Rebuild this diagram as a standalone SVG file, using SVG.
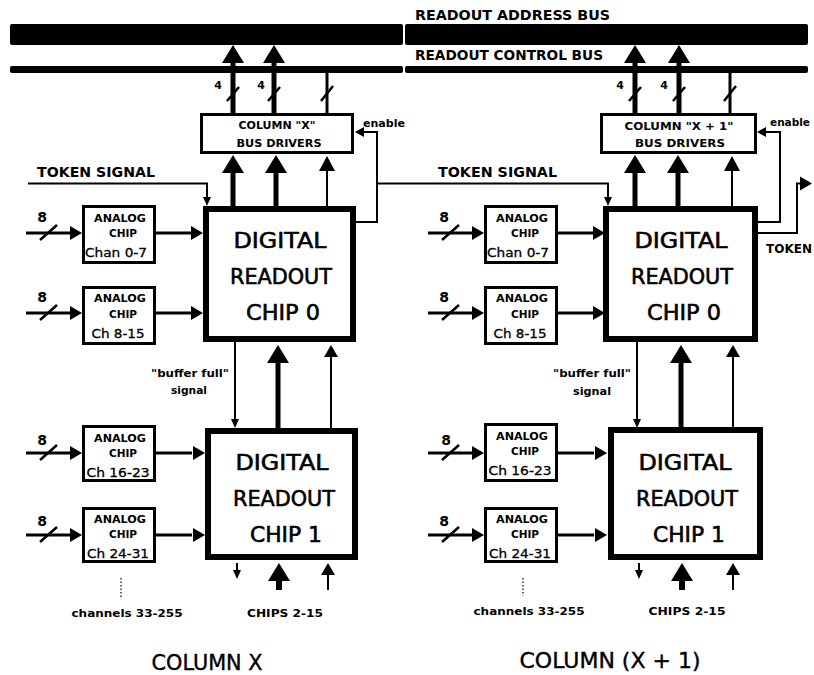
<svg xmlns="http://www.w3.org/2000/svg" xmlns:xlink="http://www.w3.org/1999/xlink" width="814" height="675" viewBox="0 0 814 675">
<style>
.bg{fill:#fff}
.bar{fill:#000}
.box{fill:#fff;stroke:#000;stroke-width:3}
.drc{fill:#fff;stroke:#000;stroke-width:6}
.thick{stroke:#000;stroke-width:5;fill:none}
.thin{stroke:#000;stroke-width:2;fill:none}
.mid{stroke:#000;stroke-width:3;fill:none}
.slash{stroke:#000;stroke-width:2.5;fill:none}
.hd{fill:#000}
.lb{font-family:"DejaVu Sans","Liberation Sans",sans-serif;font-weight:bold;fill:#000}
.big{font-family:"DejaVu Sans","Liberation Sans",sans-serif;font-size:21px;fill:#000;stroke:#000;stroke-width:0.6;text-anchor:middle}
.sm{font-family:"DejaVu Sans","Liberation Sans",sans-serif;font-weight:bold;font-size:10.5px;fill:#000;text-anchor:middle}
.ch{font-weight:normal;font-size:12px;stroke:#000;stroke-width:0.3}
.dot{stroke:#000;stroke-width:1.2;stroke-dasharray:1.5 2;fill:none}
</style>
<defs>
<path id="hUpL" d="M0,0 L-11,18 L11,18 Z"/>
<path id="hUpS" d="M0,0 L-8,15 L8,15 Z"/>
<path id="hUpT" d="M0,0 L-7,12 L7,12 Z"/>
<path id="hDn" d="M0,0 L-4,-9 L4,-9 Z"/>
<path id="hR" d="M0,0 L-12,-7 L-12,7 Z"/>
<path id="hL" d="M0,0 L9,-5 L9,5 Z"/>
<g id="analogIn">
<line class="mid" x1="26" y1="0" x2="72" y2="0"/>
<line class="slash" x1="40" y1="7" x2="57" y2="-8"/>
<use xlink:href="#hR" x="82" y="0" class="hd"/>
<line class="mid" x1="156" y1="0" x2="192" y2="0"/>
</g>
</defs>
<rect class="bg" width="814" height="675"/>

<g id="buses">
<rect class="bar" x="10" y="24" width="393" height="21" rx="2"/>
<rect class="bar" x="405" y="24" width="403" height="21" rx="2"/>
<rect class="bar" x="10" y="66" width="393" height="7" rx="2"/>
<rect class="bar" x="405" y="66" width="403" height="7" rx="2"/>
<text class="lb" x="415" y="20" font-size="14" textLength="195" lengthAdjust="spacingAndGlyphs">READOUT ADDRESS BUS</text>
<text class="lb" x="415" y="60" font-size="14" textLength="188" lengthAdjust="spacingAndGlyphs">READOUT CONTROL BUS</text>
</g>

<!-- COLUMN X -->
<g id="columnX">
<g id="connectorsX">
<line class="thick" x1="233" y1="113" x2="233" y2="60"/>
<use xlink:href="#hUpL" x="233" y="45" class="hd"/>
<line class="thick" x1="274" y1="113" x2="274" y2="60"/>
<use xlink:href="#hUpL" x="274" y="45" class="hd"/>
<line class="mid" x1="327" y1="113" x2="327" y2="73"/>
<line class="slash" x1="227" y1="101" x2="239" y2="87"/>
<line class="slash" x1="268" y1="101" x2="280" y2="87"/>
<line class="slash" x1="321" y1="101" x2="333" y2="86"/>
<text class="lb" x="218" y="89" font-size="11" text-anchor="middle">4</text>
<text class="lb" x="261" y="89" font-size="11" text-anchor="middle">4</text>
<line class="thick" x1="233" y1="206" x2="233" y2="170"/>
<use xlink:href="#hUpL" x="233" y="155" class="hd"/>
<line class="thick" x1="276" y1="206" x2="276" y2="170"/>
<use xlink:href="#hUpL" x="276" y="155" class="hd"/>
<line class="thin" x1="327" y1="206" x2="327" y2="168"/>
<use xlink:href="#hUpS" x="327" y="156" class="hd"/>
<path class="thin" d="M28,183.5 H207 V199"/>
<use xlink:href="#hDn" x="207" y="206" class="hd"/>
<path class="thin" d="M356,222 H377 V132 H363"/>
<use xlink:href="#hL" x="355" y="132" class="hd"/>
<path class="thin" d="M377,183.5 H608 V199"/>
<use xlink:href="#hDn" x="608" y="206" class="hd"/>
<use xlink:href="#analogIn" y="233"/>
<use xlink:href="#hR" x="203" y="233" class="hd"/>
<use xlink:href="#analogIn" y="313"/>
<use xlink:href="#hR" x="203" y="313" class="hd"/>
<use xlink:href="#analogIn" y="453"/>
<use xlink:href="#hR" x="205" y="453" class="hd"/>
<use xlink:href="#analogIn" y="535"/>
<use xlink:href="#hR" x="205" y="535" class="hd"/>
<line class="thin" x1="235" y1="342" x2="235" y2="420"/>
<use xlink:href="#hDn" x="235" y="428" class="hd"/>
<line class="thick" x1="278" y1="428" x2="278" y2="360"/>
<use xlink:href="#hUpL" x="278" y="345" class="hd"/>
<line class="thin" x1="331" y1="428" x2="331" y2="355"/>
<use xlink:href="#hUpT" x="331" y="345" class="hd"/>
<line class="thin" x1="237" y1="563" x2="237" y2="571"/>
<use xlink:href="#hDn" x="237" y="579" class="hd"/>
<line class="thick" x1="279" y1="590" x2="279" y2="575" style="stroke-width:6"/>
<use xlink:href="#hUpL" x="279" y="563" class="hd"/>
<line class="thin" x1="328" y1="590" x2="328" y2="572"/>
<use xlink:href="#hUpT" x="328" y="563" class="hd"/>
<line class="dot" x1="121" y1="578" x2="121" y2="598"/>
</g>
<g id="busDriversX">
<rect class="box" x="201.5" y="114.5" width="151" height="38"/>
<text class="sm" x="277" y="129" textLength="77" lengthAdjust="spacingAndGlyphs">COLUMN "X"</text>
<text class="sm" x="279" y="147" textLength="85" lengthAdjust="spacingAndGlyphs">BUS DRIVERS</text>
</g>
<g id="drc0X">
<rect class="drc" x="206" y="209" width="147" height="130"/>
<text class="big" x="280" y="248" textLength="93" lengthAdjust="spacingAndGlyphs">DIGITAL</text>
<text class="big" x="281" y="284" textLength="102" lengthAdjust="spacingAndGlyphs">READOUT</text>
<text class="big" x="283" y="320" textLength="74" lengthAdjust="spacingAndGlyphs">CHIP 0</text>
</g>
<g id="drc1X">
<rect class="drc" x="208" y="431" width="147" height="126"/>
<text class="big" x="282" y="470" textLength="93" lengthAdjust="spacingAndGlyphs">DIGITAL</text>
<text class="big" x="284" y="506" textLength="102" lengthAdjust="spacingAndGlyphs">READOUT</text>
<text class="big" x="286" y="542" textLength="72" lengthAdjust="spacingAndGlyphs">CHIP 1</text>
</g>
<g id="analog0X">
<rect class="box" x="83.5" y="206.5" width="71" height="56"/>
<text class="sm" x="120" y="222" textLength="52" lengthAdjust="spacingAndGlyphs">ANALOG</text>
<text class="sm" x="123" y="237">CHIP</text>
<text class="sm ch" x="116" y="257" textLength="62" lengthAdjust="spacingAndGlyphs">Chan 0-7</text>
</g>
<g id="analog1X">
<rect class="box" x="83.5" y="287.5" width="71" height="56"/>
<text class="sm" x="120" y="302" textLength="52" lengthAdjust="spacingAndGlyphs">ANALOG</text>
<text class="sm" x="123" y="318">CHIP</text>
<text class="sm ch" x="118" y="338" textLength="53" lengthAdjust="spacingAndGlyphs">Ch 8-15</text>
</g>
<g id="analog2X">
<rect class="box" x="83.5" y="426.5" width="71" height="54"/>
<text class="sm" x="120" y="442" textLength="52" lengthAdjust="spacingAndGlyphs">ANALOG</text>
<text class="sm" x="123" y="457">CHIP</text>
<text class="sm ch" x="118" y="477" textLength="63" lengthAdjust="spacingAndGlyphs">Ch 16-23</text>
</g>
<g id="analog3X">
<rect class="box" x="83.5" y="508.5" width="71" height="53"/>
<text class="sm" x="120" y="523" textLength="52" lengthAdjust="spacingAndGlyphs">ANALOG</text>
<text class="sm" x="123" y="538">CHIP</text>
<text class="sm ch" x="118" y="558" textLength="62" lengthAdjust="spacingAndGlyphs">Ch 24-31</text>
</g>
<g id="labelsX">
<text class="lb" x="37" y="177" font-size="14" textLength="118" lengthAdjust="spacingAndGlyphs">TOKEN SIGNAL</text>
<text class="lb" x="42" y="222" font-size="14" text-anchor="middle">8</text>
<text class="lb" x="42" y="302" font-size="14" text-anchor="middle">8</text>
<text class="lb" x="42" y="445" font-size="14" text-anchor="middle">8</text>
<text class="lb" x="42" y="526" font-size="14" text-anchor="middle">8</text>
<text class="lb" x="363" y="127" font-size="10" textLength="42" lengthAdjust="spacingAndGlyphs">enable</text>
<text class="sm" x="190" y="377" textLength="78" lengthAdjust="spacingAndGlyphs">"buffer full"</text>
<text class="sm" x="189" y="394" textLength="36" lengthAdjust="spacingAndGlyphs">signal</text>
<text class="sm" x="127" y="617" textLength="111" lengthAdjust="spacingAndGlyphs">channels 33-255</text>
<text class="sm" x="285" y="617" textLength="76" lengthAdjust="spacingAndGlyphs">CHIPS 2-15</text>
<text class="big" x="207" y="670" style="font-size:22px;stroke-width:0.4" textLength="111" lengthAdjust="spacingAndGlyphs">COLUMN X</text>
</g>
</g>

<!-- COLUMN X+1 -->
<g id="columnX1" transform="translate(402,0)">
<g id="connectorsX1">
<line class="thick" x1="233" y1="113" x2="233" y2="60"/>
<use xlink:href="#hUpL" x="233" y="45" class="hd"/>
<line class="thick" x1="277" y1="113" x2="277" y2="60"/>
<use xlink:href="#hUpL" x="277" y="45" class="hd"/>
<line class="mid" x1="328" y1="113" x2="328" y2="73"/>
<line class="slash" x1="227" y1="101" x2="239" y2="87"/>
<line class="slash" x1="271" y1="101" x2="283" y2="87"/>
<line class="slash" x1="322" y1="101" x2="334" y2="86"/>
<text class="lb" x="218" y="89" font-size="11" text-anchor="middle">4</text>
<text class="lb" x="262" y="89" font-size="11" text-anchor="middle">4</text>
<line class="thick" x1="233" y1="206" x2="233" y2="170"/>
<use xlink:href="#hUpL" x="233" y="155" class="hd"/>
<line class="thick" x1="276" y1="206" x2="276" y2="170"/>
<use xlink:href="#hUpL" x="276" y="155" class="hd"/>
<line class="thin" x1="330" y1="206" x2="330" y2="168"/>
<use xlink:href="#hUpS" x="330" y="156" class="hd"/>
<path class="thin" d="M356,222 H378 V132 H363"/>
<use xlink:href="#hL" x="355" y="132" class="hd"/>
<path class="thin" d="M356,233 H395 V183.5 H400"/>
<use xlink:href="#hR" x="410" y="183.5" class="hd"/>
<use xlink:href="#analogIn" y="233"/>
<use xlink:href="#hR" x="203" y="233" class="hd"/>
<use xlink:href="#analogIn" y="313"/>
<use xlink:href="#hR" x="203" y="313" class="hd"/>
<use xlink:href="#analogIn" y="453"/>
<use xlink:href="#hR" x="205" y="453" class="hd"/>
<use xlink:href="#analogIn" y="535"/>
<use xlink:href="#hR" x="205" y="535" class="hd"/>
<line class="thin" x1="235" y1="342" x2="235" y2="420"/>
<use xlink:href="#hDn" x="235" y="428" class="hd"/>
<line class="thick" x1="279" y1="428" x2="279" y2="360"/>
<use xlink:href="#hUpL" x="279" y="345" class="hd"/>
<line class="thin" x1="331" y1="428" x2="331" y2="355"/>
<use xlink:href="#hUpT" x="331" y="345" class="hd"/>
<line class="thin" x1="237" y1="563" x2="237" y2="571"/>
<use xlink:href="#hDn" x="237" y="579" class="hd"/>
<line class="thick" x1="280" y1="590" x2="280" y2="575" style="stroke-width:6"/>
<use xlink:href="#hUpL" x="280" y="563" class="hd"/>
<line class="thin" x1="331" y1="590" x2="331" y2="572"/>
<use xlink:href="#hUpT" x="331" y="563" class="hd"/>
<line class="dot" x1="121" y1="578" x2="121" y2="596"/>
</g>
<g id="busDriversX1">
<rect class="box" x="199.5" y="114.5" width="154" height="38"/>
<text class="sm" x="277" y="130" textLength="109" lengthAdjust="spacingAndGlyphs">COLUMN "X + 1"</text>
<text class="sm" x="278" y="147" textLength="90" lengthAdjust="spacingAndGlyphs">BUS DRIVERS</text>
</g>
<g id="drc0X1">
<rect class="drc" x="204" y="209" width="149" height="130"/>
<text class="big" x="279" y="248" textLength="93" lengthAdjust="spacingAndGlyphs">DIGITAL</text>
<text class="big" x="280" y="284" textLength="102" lengthAdjust="spacingAndGlyphs">READOUT</text>
<text class="big" x="282" y="320" textLength="74" lengthAdjust="spacingAndGlyphs">CHIP 0</text>
</g>
<g id="drc1X1">
<rect class="drc" x="209" y="430" width="149" height="127"/>
<text class="big" x="283" y="470" textLength="93" lengthAdjust="spacingAndGlyphs">DIGITAL</text>
<text class="big" x="285" y="506" textLength="102" lengthAdjust="spacingAndGlyphs">READOUT</text>
<text class="big" x="287" y="542" textLength="72" lengthAdjust="spacingAndGlyphs">CHIP 1</text>
</g>
<g id="analog0X1">
<rect class="box" x="83.5" y="206.5" width="71" height="56"/>
<text class="sm" x="120" y="222" textLength="52" lengthAdjust="spacingAndGlyphs">ANALOG</text>
<text class="sm" x="123" y="237">CHIP</text>
<text class="sm ch" x="116" y="257" textLength="62" lengthAdjust="spacingAndGlyphs">Chan 0-7</text>
</g>
<g id="analog1X1">
<rect class="box" x="83.5" y="287.5" width="71" height="56"/>
<text class="sm" x="120" y="302" textLength="52" lengthAdjust="spacingAndGlyphs">ANALOG</text>
<text class="sm" x="123" y="318">CHIP</text>
<text class="sm ch" x="118" y="338" textLength="53" lengthAdjust="spacingAndGlyphs">Ch 8-15</text>
</g>
<g id="analog2X1">
<rect class="box" x="83.5" y="424.5" width="71" height="56"/>
<text class="sm" x="120" y="440" textLength="52" lengthAdjust="spacingAndGlyphs">ANALOG</text>
<text class="sm" x="123" y="455">CHIP</text>
<text class="sm ch" x="118" y="475" textLength="63" lengthAdjust="spacingAndGlyphs">Ch 16-23</text>
</g>
<g id="analog3X1">
<rect class="box" x="83.5" y="508.5" width="71" height="53"/>
<text class="sm" x="120" y="523" textLength="52" lengthAdjust="spacingAndGlyphs">ANALOG</text>
<text class="sm" x="123" y="538">CHIP</text>
<text class="sm ch" x="118" y="558" textLength="62" lengthAdjust="spacingAndGlyphs">Ch 24-31</text>
</g>
<g id="labelsX1">
<text class="lb" x="36" y="177" font-size="14" textLength="119" lengthAdjust="spacingAndGlyphs">TOKEN SIGNAL</text>
<text class="lb" x="42" y="222" font-size="14" text-anchor="middle">8</text>
<text class="lb" x="42" y="302" font-size="14" text-anchor="middle">8</text>
<text class="lb" x="44" y="445" font-size="14" text-anchor="middle">8</text>
<text class="lb" x="42" y="526" font-size="14" text-anchor="middle">8</text>
<text class="lb" x="368" y="126" font-size="10" textLength="40" lengthAdjust="spacingAndGlyphs">enable</text>
<text class="lb" x="364" y="253" font-size="12">TOKEN</text>
<text class="sm" x="190" y="377" textLength="78" lengthAdjust="spacingAndGlyphs">"buffer full"</text>
<text class="sm" x="190" y="395" textLength="38" lengthAdjust="spacingAndGlyphs">signal</text>
<text class="sm" x="127" y="615" textLength="111" lengthAdjust="spacingAndGlyphs">channels 33-255</text>
<text class="sm" x="285" y="615" textLength="77" lengthAdjust="spacingAndGlyphs">CHIPS 2-15</text>
<text class="big" x="208" y="668" style="font-size:22px;stroke-width:0.4" textLength="181" lengthAdjust="spacingAndGlyphs">COLUMN (X + 1)</text>
</g>
</g>
</svg>
